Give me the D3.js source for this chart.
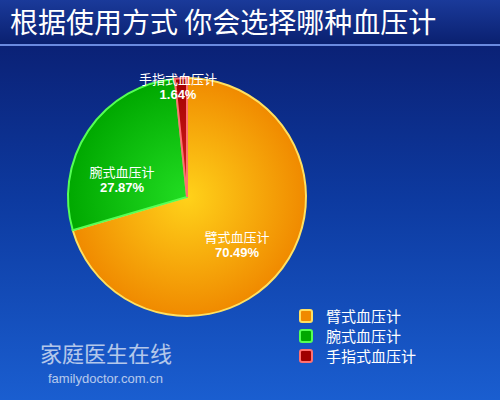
<!DOCTYPE html>
<html><head><meta charset="utf-8">
<script src="https://cdn.jsdelivr.net/npm/d3@7"></script>
<style>body{margin:0}svg{display:block}</style></head>
<body><script>
const categories=["臂式血压计","腕式血压计","手指式血压计"];
const values=[70.49,27.87,1.64];
const labels=["70.49%","27.87%","1.64%"];
const colors=[["#ffd21a","#f08a00"],["#22dd22","#00a800"],["#dd2222","#a00000"]];
const title="根据使用方式 你会选择哪种血压计";
const W=500,H=400;
const svg=d3.select("body").append("svg").attr("width",W).attr("height",H);
const defs=svg.append("defs");
const bg=defs.append("linearGradient").attr("id","bg").attr("x1",0).attr("y1",0).attr("x2",0).attr("y2",1);
bg.append("stop").attr("offset","0").attr("stop-color","#0a1a6a");
bg.append("stop").attr("offset","0.5").attr("stop-color","#0d3aa0");
bg.append("stop").attr("offset","1").attr("stop-color","#1a5ed0");
svg.append("rect").attr("width",W).attr("height",H).attr("fill","url(#bg)");
const tb=defs.append("linearGradient").attr("id","tb").attr("x1",0).attr("y1",0).attr("x2",0).attr("y2",1);
tb.append("stop").attr("offset","0").attr("stop-color","#1a3a9a");
tb.append("stop").attr("offset","1").attr("stop-color","#0a2070");
svg.append("rect").attr("width",W).attr("height",44).attr("fill","url(#tb)");
svg.append("line").attr("x1",0).attr("x2",W).attr("y1",45).attr("y2",45).attr("stroke","#6a8ae0").attr("stroke-width",2);
svg.append("text").attr("x",10).attr("y",33).attr("fill","#fff").attr("font-size",28)
 .attr("font-family","Noto Sans CJK SC").text(title);
const cx=187,cy=197,R=119;
colors.forEach((c,i)=>{const g=defs.append("radialGradient").attr("id","g"+i)
 .attr("gradientUnits","userSpaceOnUse").attr("cx",0).attr("cy",0).attr("r",R);
 g.append("stop").attr("offset","0").attr("stop-color",c[0]);
 g.append("stop").attr("offset","1").attr("stop-color",c[1]);});
const pie=d3.pie().sort(null).value(d=>d);
const arcs=pie(values);
const arc=d3.arc().innerRadius(0).outerRadius(R);
const gp=svg.append("g").attr("transform",`translate(${cx},${cy})`);
const stroke=["#ffe060","#55ff55","#ff7070"];
gp.selectAll("path").data(arcs).join("path").attr("d",arc)
 .attr("fill",(d,i)=>`url(#g${i})`).attr("stroke",(d,i)=>stroke[i]).attr("stroke-width",2);
const lpos=[[50,45],[-65,-20],[-9,-113]];
const lab=gp.selectAll("g.l").data(arcs).join("g").attr("class","l")
 .attr("transform",(d,i)=>`translate(${lpos[i][0]},${lpos[i][1]})`)
 .attr("font-family","Noto Sans CJK SC").attr("fill","#fff").attr("text-anchor","middle");
lab.append("text").attr("font-size",13).text((d,i)=>categories[i]);
lab.append("text").attr("y",15).attr("font-size",13).attr("font-weight","bold")
 .attr("font-family","Liberation Sans").text((d,i)=>labels[i]);
const lg=svg.append("g").attr("transform","translate(300,316)");
categories.forEach((c,i)=>{const r=lg.append("g").attr("transform",`translate(0,${i*20})`);
 r.append("rect").attr("x",0).attr("y",-6).attr("width",12).attr("height",12).attr("rx",2)
  .attr("fill",colors[i][1]).attr("stroke",stroke[i]).attr("stroke-width",2);
 r.append("text").attr("x",26).attr("y",6).attr("fill","#fff").attr("font-size",15)
  .attr("font-family","Noto Sans CJK SC").text(c);});
svg.append("text").attr("x",40).attr("y",362).attr("fill","#e8eef8").attr("font-size",22)
 .attr("font-family","Noto Sans CJK SC").attr("opacity",0.75).text("家庭医生在线");
svg.append("text").attr("x",48).attr("y",383).attr("fill","#e8eef8").attr("font-size",13)
 .attr("font-family","Liberation Sans").attr("opacity",0.75).text("familydoctor.com.cn");
</script></body></html>
